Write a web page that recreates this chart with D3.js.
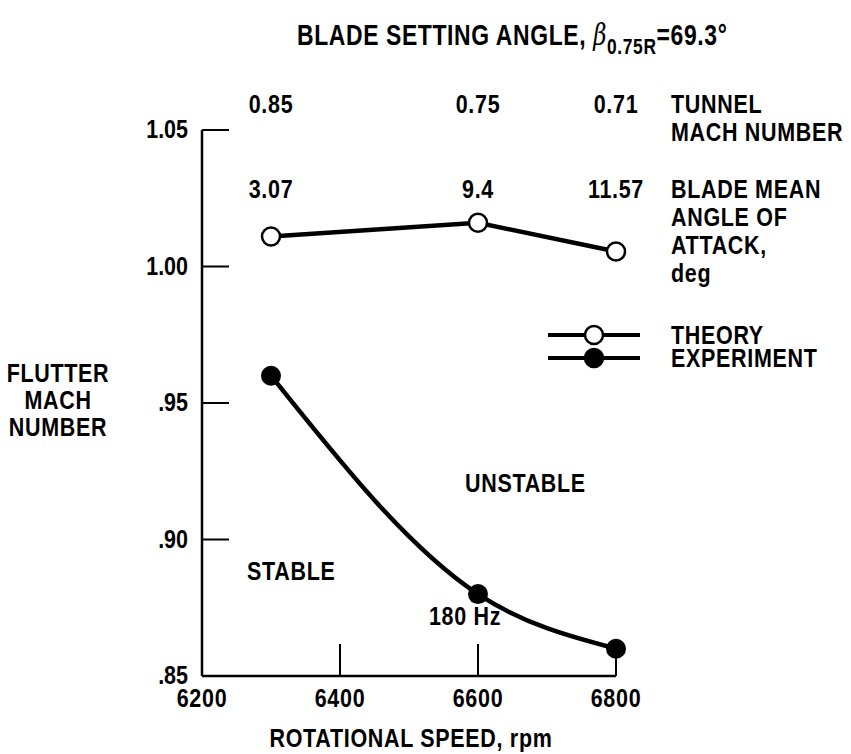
<!DOCTYPE html>
<html>
<head>
<meta charset="utf-8">
<script src="https://cdn.jsdelivr.net/npm/d3@7"></script>
<style>
  body { margin: 0; background: #fff; }
  svg text { font-family: "Liberation Sans", Arial, sans-serif; font-weight: bold; fill: #000; }
</style>
</head>
<body>
<div id="chart"></div>
<script>
// data
const rpm = [6300, 6600, 6800];
const theory = [1.011, 1.016, 1.0055];
const experiment = [0.960, 0.880, 0.860];
const tunnelMach = ["0.85", "0.75", "0.71"];
const meanAngle = ["3.07", "9.4", "11.57"];
const xTicks = [6200, 6400, 6600, 6800];
const yTicks = [0.85, 0.90, 0.95, 1.00, 1.05];
const yTickLabels = [".85", ".90", ".95", "1.00", "1.05"];

const width = 851, height = 754;
const fs = 25;
const sx = 0.86; // narrow the lettering like the original condensed type

const svg = d3.select("#chart").append("svg")
    .attr("width", width)
    .attr("height", height);

const x = d3.scaleLinear().domain([6200, 6800]).range([202, 616]);
const y = d3.scaleLinear().domain([0.85, 1.05]).range([676, 130]);

const pos = (px, py) => `translate(${px},${py}) scale(${sx},1)`;

function addText(px, py, str, anchor) {
    return svg.append("text")
        .attr("transform", pos(px, py))
        .attr("text-anchor", anchor || "start")
        .attr("font-size", fs)
        .attr("letter-spacing", 0.8)
        .text(str);
}

// axes lines
svg.append("line")
    .attr("x1", x(6200)).attr("x2", x(6200))
    .attr("y1", y(1.05)).attr("y2", y(0.85))
    .attr("stroke", "#000").attr("stroke-width", 2.5);
svg.append("line")
    .attr("x1", x(6200)).attr("x2", x(6800))
    .attr("y1", y(0.85)).attr("y2", y(0.85))
    .attr("stroke", "#000").attr("stroke-width", 2.5);

// y ticks (inward)
svg.selectAll(".ytick")
    .data(yTicks.slice(1))
    .enter().append("line")
    .attr("x1", x(6200)).attr("x2", x(6200) + 27)
    .attr("y1", d => y(d)).attr("y2", d => y(d))
    .attr("stroke", "#000").attr("stroke-width", 2);

svg.selectAll(".ylab")
    .data(yTicks)
    .enter().append("text")
    .attr("transform", d => pos(x(6200) - 14, y(d) + 8))
    .attr("text-anchor", "end")
    .attr("font-size", fs)
    .text((d, i) => yTickLabels[i]);

// x ticks (inward)
svg.selectAll(".xtick")
    .data(xTicks.slice(1))
    .enter().append("line")
    .attr("x1", d => x(d)).attr("x2", d => x(d))
    .attr("y1", y(0.85)).attr("y2", y(0.85) - 32)
    .attr("stroke", "#000").attr("stroke-width", 2);

svg.selectAll(".xlab")
    .data(xTicks)
    .enter().append("text")
    .attr("transform", d => pos(x(d), 707))
    .attr("text-anchor", "middle")
    .attr("font-size", fs)
    .attr("letter-spacing", 0.8)
    .text(d => d);

// axis titles
addText(411, 747, "ROTATIONAL SPEED, rpm", "middle");
["FLUTTER", "MACH", "NUMBER"].forEach((t, i) => addText(58, 382 + i * 27, t, "middle"));

// title
const title = svg.append("text")
    .attr("transform", `translate(297,45) scale(0.79,1)`)
    .attr("font-size", 29)
    .attr("letter-spacing", 0.8);
title.append("tspan").text("BLADE SETTING ANGLE, ");
title.append("tspan")
    .style("font-family", "'DejaVu Serif', serif")
    .style("font-style", "italic")
    .style("font-weight", "normal")
    .text("β");
title.append("tspan").attr("dy", 9).attr("font-size", 22).text("0.75R");
title.append("tspan").attr("dy", -9).text("=69.3°");

// top annotations
svg.selectAll(".tm")
    .data(rpm)
    .enter().append("text")
    .attr("transform", d => pos(x(d), 113))
    .attr("text-anchor", "middle")
    .attr("font-size", fs)
    .attr("letter-spacing", 0.8)
    .text((d, i) => tunnelMach[i]);

svg.selectAll(".ma")
    .data(rpm)
    .enter().append("text")
    .attr("transform", d => pos(x(d), 198))
    .attr("text-anchor", "middle")
    .attr("font-size", fs)
    .attr("letter-spacing", 0.8)
    .text((d, i) => meanAngle[i]);

const rightBlock = [
    ["TUNNEL", 113], ["MACH NUMBER", 141],
    ["BLADE MEAN", 198], ["ANGLE OF", 226], ["ATTACK,", 254], ["deg", 282]
];
rightBlock.forEach(d => addText(671, d[1], d[0]));

// series
const theoryData = rpm.map((r, i) => ({ r: r, v: theory[i] }));
const expData = rpm.map((r, i) => ({ r: r, v: experiment[i] }));

svg.append("path")
    .datum(theoryData)
    .attr("fill", "none")
    .attr("stroke", "#000")
    .attr("stroke-width", 4.5)
    .attr("d", d3.line().x(d => x(d.r)).y(d => y(d.v)));

svg.append("path")
    .datum(expData)
    .attr("fill", "none")
    .attr("stroke", "#000")
    .attr("stroke-width", 4.5)
    .attr("d", d3.line().curve(d3.curveMonotoneX).x(d => x(d.r)).y(d => y(d.v)));

svg.selectAll(".tp")
    .data(theoryData)
    .enter().append("circle")
    .attr("cx", d => x(d.r))
    .attr("cy", d => y(d.v))
    .attr("r", 9)
    .attr("fill", "#fff")
    .attr("stroke", "#000")
    .attr("stroke-width", 2.5);

svg.selectAll(".ep")
    .data(expData)
    .enter().append("circle")
    .attr("cx", d => x(d.r))
    .attr("cy", d => y(d.v))
    .attr("r", 10)
    .attr("fill", "#000");

// legend
const legend = [
    { label: "THEORY", y: 335, fill: "#fff" },
    { label: "EXPERIMENT", y: 358, fill: "#000" }
];
legend.forEach(l => {
    svg.append("line")
        .attr("x1", 548).attr("x2", 640)
        .attr("y1", l.y).attr("y2", l.y)
        .attr("stroke", "#000").attr("stroke-width", 4);
    svg.append("circle")
        .attr("cx", 594).attr("cy", l.y).attr("r", 9)
        .attr("fill", l.fill).attr("stroke", "#000").attr("stroke-width", 2.5);
    addText(671, l.y + 9, l.label);
});

// region labels
addText(247, 580, "STABLE");
addText(465, 492, "UNSTABLE");
addText(465, 625, "180 Hz", "middle");
</script>
</body>
</html>
